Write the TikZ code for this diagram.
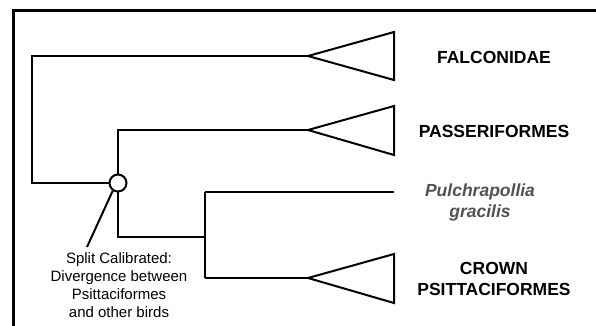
\documentclass[tikz,border=0pt]{standalone}
\usepackage{fontspec}
\setmainfont{Liberation Sans}
\begin{document}
\begin{tikzpicture}[x=1pt,y=-1pt,
  branch/.style={line width=2pt, line join=miter},
  clade/.style={font=\bfseries\fontsize{17.5}{21}\selectfont, align=center},
  fossil/.style={font=\bfseries\itshape\fontsize{17.5}{21}\selectfont, text=black!68, align=center},
  note/.style={font=\fontsize{15}{18}\selectfont, align=center}]
\useasboundingbox (0,0) rectangle (596,325);
\fill[white] (0,0) rectangle (596,325);
% frame
\draw[line width=3pt] (13.5,326) -- (13.5,10.5) -- (597,10.5);
% junction coordinates
\coordinate (root) at (32,183);
\coordinate (rootT) at (32,56);
\coordinate (tF) at (308,56);
\coordinate (nT) at (118,130);
\coordinate (tP) at (308,130);
\coordinate (nB) at (118,237);
\coordinate (n2) at (205,237);
\coordinate (n2T) at (205,192);
\coordinate (n2B) at (205,278);
\coordinate (pg) at (394,192);
\coordinate (tC) at (308,278);
% branches
\draw[branch] (tF) -- (rootT) -- (root) -- (118,183);
\draw[branch] (tP) -- (nT) -- (nB) -- (n2);
\draw[branch] (n2T) -- (n2B);
\draw[branch] (n2T) -- (pg);
\draw[branch] (n2B) -- (tC);
% triangles
\draw[branch] (tF) -- (394,32) -- (394,80) -- cycle;
\draw[branch] (tP) -- (394,106) -- (394,155) -- cycle;
\draw[branch] (tC) -- (394,254) -- (394,303) -- cycle;
% calibrated split
\node[circle, draw, line width=2pt, fill=white, minimum size=17pt, inner sep=0pt] (cal) at (118,183) {};
\coordinate (leadEnd) at (87,247);
\draw[line width=2pt] (cal.236) -- (leadEnd);
\node[note, anchor=north] (calnote) at (119,249) {Split Calibrated:\\Divergence between\\Psittaciformes\\and other birds};
% labels
\node[clade] (falc) at (494,57) {FALCONIDAE};
\node[clade] (pass) at (494,131) {PASSERIFORMES};
\node[fossil] (pulch) at (480,202) {Pulchrapollia\\gracilis};
\node[clade] (crown) at (494,279) {CROWN\\PSITTACIFORMES};
\end{tikzpicture}
\end{document}
